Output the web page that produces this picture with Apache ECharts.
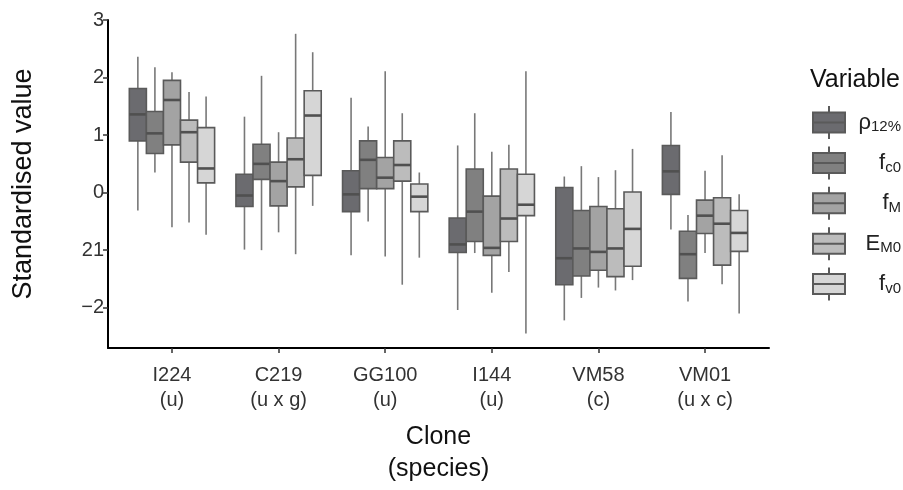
<!DOCTYPE html>
<html>
<head>
<meta charset="utf-8">
<script src="https://cdn.jsdelivr.net/npm/echarts@6/dist/echarts.min.js"></script>
<style>
  html, body { margin: 0; padding: 0; background: #fff; }
  #chart { width: 903px; height: 490px; }
</style>
</head>
<body>
<div id="chart"></div>
<script>
// Clones along the x axis (two-line labels: clone / species)
const clones = ['I224\n(u)', 'C219\n(u x g)', 'GG100\n(u)', 'I144\n(u)', 'VM58\n(c)', 'VM01\n(u x c)'];

// Y tick positions and the labels printed at them
const yTickValues = [-2, -1, 0, 1, 2, 3];
const yTickLabels = ['\u22122', '21', '0', '1', '2', '3'];

// Variables (legend order): symbol + subscript, and box fills
const variables = ['rho12', 'fc0', 'fM', 'EM0', 'fv0'];
const varSymbols = ['\u03c1', 'f', 'f', 'E', 'f'];
const varSubscripts = ['12%', 'c0', 'M', 'M0', 'v0'];
const fills = ['#6b6b6f', '#808080', '#a3a3a3', '#bcbcbc', '#d6d6d6'];

// Box statistics per clone: [lower whisker, Q1, median, Q3, upper whisker]
const rho12 = [
  [-0.31, 0.90, 1.36, 1.81, 2.36],
  [-0.99, -0.24, -0.05, 0.32, 1.32],
  [-1.09, -0.33, -0.03, 0.38, 1.65],
  [-2.04, -1.04, -0.90, -0.44, 0.82],
  [-2.22, -1.60, -1.14, 0.09, 0.28],
  [-0.64, -0.03, 0.37, 0.82, 1.40]
];
const fc0 = [
  [0.35, 0.68, 1.03, 1.41, 2.18],
  [-1.00, 0.23, 0.50, 0.84, 2.03],
  [-0.50, 0.07, 0.57, 0.90, 1.15],
  [-1.05, -0.85, -0.33, 0.41, 1.38],
  [-1.83, -1.45, -0.97, -0.31, 0.46],
  [-1.89, -1.49, -1.07, -0.67, -0.39]
];
const fM = [
  [-0.60, 0.83, 1.61, 1.95, 2.09],
  [-0.69, -0.23, 0.20, 0.53, 1.05],
  [-1.11, 0.07, 0.26, 0.61, 2.11],
  [-1.74, -1.09, -0.96, -0.06, 0.71],
  [-1.65, -1.35, -1.03, -0.24, 0.27],
  [-1.05, -0.71, -0.40, -0.13, 0.38]
];
const EM0 = [
  [-0.52, 0.53, 1.05, 1.26, 1.75],
  [-1.07, 0.10, 0.58, 0.95, 2.76],
  [-1.60, 0.20, 0.48, 0.90, 1.38],
  [-1.38, -0.85, -0.45, 0.41, 0.83],
  [-1.70, -1.46, -0.97, -0.28, 0.39],
  [-1.59, -1.26, -0.54, -0.09, 0.65]
];
const fv0 = [
  [-0.73, 0.17, 0.42, 1.13, 1.67],
  [-0.23, 0.30, 1.34, 1.77, 2.44],
  [-1.13, -0.33, -0.07, 0.15, 0.35],
  [-2.45, -0.40, -0.21, 0.32, 2.11],
  [-1.52, -1.28, -0.63, 0.01, 0.76],
  [-2.10, -1.02, -0.70, -0.31, -0.03]
];
const stats = [rho12, fc0, fM, EM0, fv0];

const FONT = '"Liberation Sans", Arial, Helvetica, sans-serif';
const BOX_W = 0.16;      // width of one box in category units
const BORDER = '#5a5a5a';
const WHISKER = '#787878';
const SYM_SIZE = 22;
const SUB_SIZE = 15;
const LEGEND_TEXT_W = 51; // legend labels are right-aligned within this width

function boxRenderer(k) {
  const offset = (k - 2) * BOX_W;
  return function (params, api) {
    const x = api.value(0) + offset;
    const lo = api.coord([x, api.value(1)]);
    const q1 = api.coord([x, api.value(2)]);
    const med = api.coord([x, api.value(3)]);
    const q3 = api.coord([x, api.value(4)]);
    const hi = api.coord([x, api.value(5)]);
    const w = api.size([BOX_W, 0])[0];
    const cx = lo[0];
    const left = cx - w / 2;
    return {
      type: 'group',
      children: [
        { type: 'line', shape: { x1: cx, y1: hi[1], x2: cx, y2: q3[1] },
          style: { stroke: WHISKER, lineWidth: 1.6 } },
        { type: 'line', shape: { x1: cx, y1: q1[1], x2: cx, y2: lo[1] },
          style: { stroke: WHISKER, lineWidth: 1.6 } },
        { type: 'rect', shape: { x: left, y: q3[1], width: w, height: q1[1] - q3[1] },
          style: { fill: fills[k], stroke: BORDER, lineWidth: 1.6 } },
        { type: 'line', shape: { x1: left, y1: med[1], x2: left + w, y2: med[1] },
          style: { stroke: '#505050', lineWidth: 2.6 } }
      ]
    };
  };
}

// Legend labels: a spacer token pushes each label flush right
const measureCtx = document.createElement('canvas').getContext('2d');
function textWidth(str, size) {
  measureCtx.font = size + 'px ' + FONT;
  return measureCtx.measureText(str).width;
}
const legendRich = {
  b: { fontFamily: FONT, fontSize: SYM_SIZE, lineHeight: 26, color: '#222' },
  s: { fontFamily: FONT, fontSize: SUB_SIZE, lineHeight: 16, color: '#222', padding: [9, 0, 0, 0] }
};
variables.forEach((v, i) => {
  const w = textWidth(varSymbols[i], SYM_SIZE) + textWidth(varSubscripts[i], SUB_SIZE);
  legendRich['p' + i] = { width: Math.max(0, LEGEND_TEXT_W - w), fontSize: 4, lineHeight: 4 };
});

const series = variables.map((name, k) => ({
  name: name,
  type: 'custom',
  renderItem: boxRenderer(k),
  encode: { x: 0, y: [1, 2, 3, 4, 5] },
  itemStyle: { color: fills[k], borderColor: BORDER, borderWidth: 1.4 },
  data: stats[k].map((s, i) => [i + 1].concat(s))
}));

const chart = echarts.init(document.getElementById('chart'), null, { renderer: 'canvas' });
chart.setOption({
  animation: false,
  backgroundColor: '#ffffff',
  textStyle: { fontFamily: FONT },
  title: {
    text: 'Variable',
    left: 805,
    top: 63,
    textStyle: { fontFamily: FONT, fontSize: 25, fontWeight: 'normal', color: '#111' }
  },
  legend: {
    orient: 'vertical',
    left: 812,
    top: 105,
    padding: 0,
    itemWidth: 32,
    itemHeight: 33,
    itemGap: 5.4,
    icon: 'path://M0,6.5 h32 v20 h-32 Z M0,16.5 h32 M16,0 v6.5 M16,26.5 v6.5',
    data: variables,
    formatter: name => {
      const i = variables.indexOf(name);
      return '{p' + i + '| }{b|' + varSymbols[i] + '}{s|' + varSubscripts[i] + '}';
    },
    textStyle: { color: '#222', rich: legendRich }
  },
  grid: { left: 108, right: 134, top: 20, bottom: 142 },
  xAxis: {
    type: 'value',
    min: 0.4,
    max: 6.6,
    name: 'Clone\n(species)',
    nameLocation: 'middle',
    nameGap: 73,
    nameTextStyle: { fontFamily: FONT, fontSize: 25, color: '#111', lineHeight: 32 },
    splitLine: { show: false },
    axisLine: { show: true, onZero: false, lineStyle: { color: '#000', width: 2 } },
    axisTick: { show: true, customValues: [1, 2, 3, 4, 5, 6], length: 5,
                lineStyle: { color: '#333', width: 1.5 } },
    axisLabel: {
      customValues: [1, 2, 3, 4, 5, 6],
      formatter: v => clones[Math.round(v) - 1],
      margin: 15,
      fontFamily: FONT,
      fontSize: 20,
      lineHeight: 25,
      color: '#333'
    }
  },
  yAxis: {
    type: 'value',
    min: -2.7,
    max: 3,
    name: 'Standardised value',
    nameLocation: 'middle',
    nameGap: 71,
    nameTextStyle: { fontFamily: FONT, fontSize: 27, color: '#111' },
    splitLine: { show: false },
    axisLine: { show: true, onZero: false, lineStyle: { color: '#000', width: 2 } },
    axisTick: { show: true, customValues: yTickValues, length: 5,
                lineStyle: { color: '#333', width: 1.5 } },
    axisLabel: {
      customValues: yTickValues,
      formatter: v => yTickLabels[yTickValues.indexOf(Math.round(v))],
      margin: 4,
      fontFamily: FONT,
      fontSize: 20,
      color: '#333'
    }
  },
  series: series
});
</script>
</body>
</html>
